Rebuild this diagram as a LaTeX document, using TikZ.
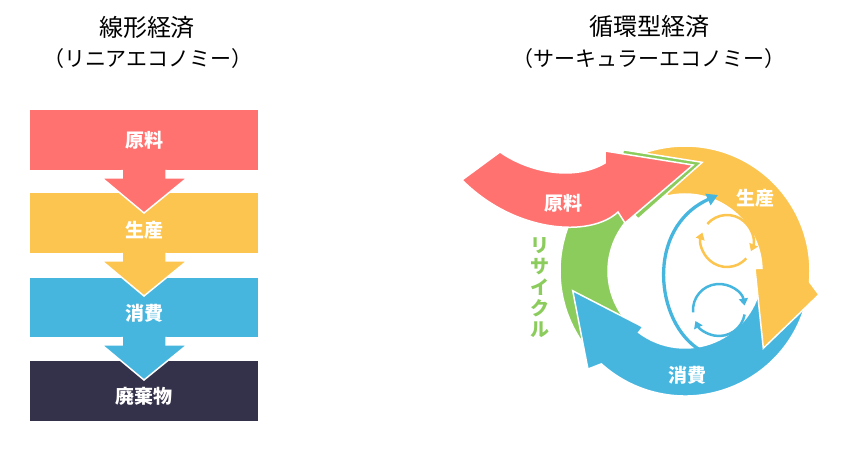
\documentclass[tikz,border=0pt]{standalone}
\usepackage{fontspec}
\setmainfont{Noto Sans CJK JP}
\usetikzlibrary{calc,arrows.meta}
\definecolor{cred}{RGB}{255,114,112}
\definecolor{cyellow}{RGB}{252,197,79}
\definecolor{cblue}{RGB}{70,182,223}
\definecolor{cdark}{RGB}{52,49,74}
\definecolor{cgreen}{RGB}{139,204,92}
\tikzset{
  wedge/.style={draw=white, line width=1.5pt},
  outl/.style={draw=white, line width=1.5pt},
  lbl/.style={text=white, font=\fontsize{19}{19}\selectfont\bfseries, inner sep=0pt},
  ttla/.style={text=black, font=\fontsize{24}{24}\selectfont, inner sep=0pt},
  ttlb/.style={text=black, font=\fontsize{21}{21}\selectfont, inner sep=0pt},
  ycirc/.style={draw=cyellow, line width=2.5pt, -{Triangle[length=7pt,width=9pt]}},
  bcirc/.style={draw=cblue, line width=2.5pt, -{Triangle[length=7pt,width=9pt]}},
  bcurve/.style={draw=cblue, line width=3.3pt, -{Triangle[length=11pt,width=12pt]}},
}
\begin{document}
\begin{tikzpicture}[x=1pt,y=1pt]
\useasboundingbox (0,0) rectangle (847,453);

% titles
\node[ttla] (t1) at (147,426) {線形経済};
\node[ttlb] (t2) at (148,394) {（リニアエコノミー）};
\node[ttla] (t3) at (649,426) {循環型経済};
\node[ttlb] (t4) at (649,394) {（サーキュラーエコノミー）};

% ---------- linear ----------
\fill[cdark] (30,32) rectangle (258,92);
\fill[cblue] (30,116) rectangle (258,175);
\fill[cyellow] (30,200) rectangle (258,260);
\fill[cred] (30,283) rectangle (258,343);

\foreach \yb/\col in {283/cred,200/cyellow,116/cblue}{
  \fill[\col] (122,\yb) -- (122,\yb-8) -- (102,\yb-8) -- (144,\yb-43) -- (187,\yb-8) -- (166,\yb-8) -- (166,\yb) -- cycle;
  \draw[outl] (122,\yb) -- (122,\yb-8) -- (102,\yb-8) -- (144,\yb-43) -- (187,\yb-8) -- (166,\yb-8) -- (166,\yb);
}

\node[lbl] (l1) at (144,313) {原料};
\node[lbl] (l2) at (144,223) {生産};
\node[lbl] (l3) at (144,140) {消費};
\node[lbl] (l4) at (144,57) {廃棄物};

% ---------- circular ----------
\coordinate (C) at (685,182);

% green
\path[wedge, fill=cgreen] ($(C)+(225:125)$) arc[start angle=225, end angle=121, radius=125pt]
  -- ($(C)+(117:136)$) -- ($(C)+(81:110)$) -- ($(C)+(132:70)$) -- ($(C)+(132:77)$)
  arc[start angle=132, end angle=225, radius=77pt] -- cycle;
% blue
\path[wedge, fill=cblue] ($(C)+(-12:125)$) arc[start angle=-12, end angle=-132, radius=125pt]
  -- ($(C)+(-134.7:138)$) -- ($(C)+(-170:114)$) -- ($(C)+(-127:70)$) -- ($(C)+(-127:77)$)
  arc[start angle=-127, end angle=-12, radius=77pt] -- cycle;
% yellow
\path[wedge, fill=cyellow] ($(C)+(108:125)$) arc[start angle=108, end angle=-5, radius=125pt]
  -- ($(C)+(-10:136)$) -- ($(C)+(-44.6:110)$) -- ($(C)+(2:70)$) -- ($(C)+(2:77)$)
  arc[start angle=2, end angle=103, radius=77pt] -- cycle;
% green head again over yellow start
\begin{scope}
\clip (540,212) rectangle (720,330);
\path[wedge, fill=cgreen] ($(C)+(225:125)$) arc[start angle=225, end angle=121, radius=125pt]
  -- ($(C)+(117:136)$) -- ($(C)+(81:110)$) -- ($(C)+(132:70)$) -- ($(C)+(132:77)$)
  arc[start angle=132, end angle=225, radius=77pt] -- cycle;
\end{scope}
% red
\path[wedge, fill=cred] (462,273) -- (500,301) .. controls (530,280) and (575,272) .. (605,290)
  -- (605,302) -- (693,288) -- (625,230) -- (618,241)
  .. controls (590,215) and (515,220) .. (462,273) -- cycle;

% inner arrows
\coordinate (YC) at (727,212);
\coordinate (BC) at (719,143);
\draw[ycirc] ($(YC)+(139:26)$) arc[start angle=139, end angle=-23, radius=26pt];
\draw[ycirc] ($(YC)+(-42:26)$) arc[start angle=-42, end angle=-199, radius=26pt];
\draw[bcirc] ($(BC)+(185:26)$) arc[start angle=185, end angle=10, radius=26pt];
\draw[bcirc] ($(BC)+(-10:26)$) arc[start angle=-10, end angle=-155, radius=26pt];
\coordinate (bs) at (700,103);
\coordinate (bt) at (718,258);
\draw[bcurve] (bs) .. controls (655,130) and (645,225) .. (bt);

% labels
\node[lbl] (r1) at (563,250) {原料};
\node[lbl] (r2) at (755,255) {生産};
\node[lbl] (r3) at (687,78) {消費};
\node[text=cgreen, font=\fontsize{19}{21}\selectfont\bfseries, align=center, inner sep=0pt] (r4) at (540,165) {リ\\サ\\イ\\ク\\ル};
\end{tikzpicture}
\end{document}
